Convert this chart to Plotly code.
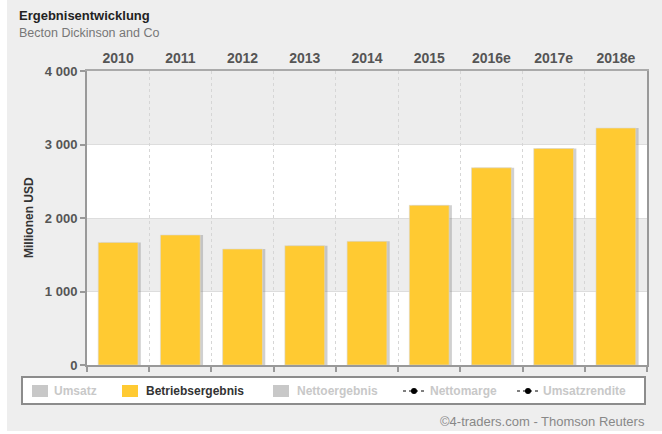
import plotly.graph_objects as go

# ---- data ----
years = ["2010", "2011", "2012", "2013", "2014", "2015", "2016e", "2017e", "2018e"]
betriebsergebnis = [1668, 1769, 1578, 1623, 1682, 2173, 2683, 2946, 3224]
y_ticks = [0, 1000, 2000, 3000, 4000]
y_tick_labels = ["0", "1 000", "2 000", "3 000", "4 000"]
legend_items = ["Umsatz", "Betriebsergebnis", "Nettoergebnis", "Nettomarge", "Umsatzrendite"]

W, H = 662, 434
L, R, T, B = 87, 647, 71, 365
FONT = "Liberation Sans, Arial, sans-serif"


def px(x):
    return (x - L) / (R - L)


def py(y):
    return 1 - (y - T) / (B - T)


BAR_W = 0.64
fig = go.Figure()
# shadow
fig.add_trace(go.Bar(x=years, y=betriebsergebnis, width=BAR_W, offset=-BAR_W / 2 + 0.045,
                     marker=dict(color="rgba(120,120,120,0.35)", line=dict(width=0)),
                     hoverinfo="skip", showlegend=False))
fig.add_trace(go.Bar(x=years, y=betriebsergebnis, width=BAR_W, offset=-BAR_W / 2,
                     marker=dict(color="#FFCA32", line=dict(color="#d9d9d9", width=0.6)),
                     name="Betriebsergebnis", showlegend=False))
# invisible trace for bottom axis
fig.add_trace(go.Scatter(x=[-0.5, len(years) - 0.5], y=[0, 0], xaxis="x2", mode="lines",
                         line=dict(width=0), hoverinfo="skip", showlegend=False))

shapes = []
# outer gray background
shapes.append(dict(type="rect", xref="paper", yref="paper", x0=px(7), x1=px(W + 5),
                   y0=py(431), y1=py(-5), fillcolor="#eeeeee", line=dict(width=0), layer="below"))
# plot area bands
shapes.append(dict(type="rect", xref="paper", yref="y", x0=0, x1=1, y0=0, y1=4000,
                   fillcolor="#ededed", line=dict(width=0), layer="below"))
for lo, hi in [(0, 1000), (2000, 3000)]:
    shapes.append(dict(type="rect", xref="paper", yref="y", x0=0, x1=1, y0=lo, y1=hi,
                       fillcolor="#ffffff", line=dict(width=0), layer="below"))

# legend box
shapes.append(dict(type="rect", xref="paper", yref="paper", x0=px(22), x1=px(645),
                   y0=py(404), y1=py(377), fillcolor="#ffffff",
                   line=dict(color="#8c8c8c", width=2), layer="above"))

annotations = []
legend_specs = [
    ("square", "#c8c8c8", 32, 52, "#c8c8c8"),
    ("square", "#FFCA32", 122, 144, "#333333"),
    ("square", "#c8c8c8", 273, 295, "#c8c8c8"),
    ("line", "#000000", 403, 428, "#c8c8c8"),
    ("line", "#000000", 517, 541, "#c8c8c8"),
]
ly = 391
for name, (kind, col, sx, tx, tcol) in zip(legend_items, legend_specs):
    if kind == "square":
        shapes.append(dict(type="rect", xref="paper", yref="paper", x0=px(sx), x1=px(sx + 16),
                           y0=py(ly + 6), y1=py(ly - 6), fillcolor=col, line=dict(width=0)))
    else:
        shapes.append(dict(type="line", xref="paper", yref="paper", x0=px(sx), x1=px(sx + 22),
                           y0=py(ly), y1=py(ly), line=dict(color=col, width=1, dash="dot")))
        shapes.append(dict(type="circle", xref="paper", yref="paper", x0=px(sx + 8), x1=px(sx + 14),
                           y0=py(ly + 3), y1=py(ly - 3), fillcolor=col, line=dict(width=0)))
    annotations.append(dict(text="<b>" + name + "</b>", xref="paper", yref="paper", x=px(tx), y=py(ly),
                            xanchor="left", yanchor="middle", showarrow=False,
                            font=dict(family=FONT, size=12, color=tcol)))

annotations += [
    dict(text="<b>Ergebnisentwicklung</b>", xref="paper", yref="paper", x=px(17), y=py(15),
         xanchor="left", yanchor="middle", showarrow=False,
         font=dict(family=FONT, size=13, color="#222222")),
    dict(text="Becton Dickinson and Co", xref="paper", yref="paper", x=px(17), y=py(33),
         xanchor="left", yanchor="middle", showarrow=False,
         font=dict(family=FONT, size=12.5, color="#777777")),
    dict(text="<b>Millionen USD</b>", xref="paper", yref="paper", x=px(29), y=py(217),
         xanchor="center", yanchor="middle", showarrow=False, textangle=-90,
         font=dict(family=FONT, size=12, color="#333333")),
    dict(text="©4-traders.com - Thomson Reuters", xref="paper", yref="paper", x=px(647), y=py(421),
         xanchor="right", yanchor="middle", showarrow=False,
         font=dict(family=FONT, size=13, color="#888888")),
]

fig.update_layout(
    width=W, height=H,
    margin=dict(l=L, r=W - R, t=T, b=H - B, pad=0),
    paper_bgcolor="#ffffff", plot_bgcolor="#ededed",
    barmode="overlay", bargap=0.36,
    showlegend=False,
    shapes=shapes, annotations=annotations,
    xaxis=dict(type="category", side="top", range=[-0.5, len(years) - 0.5],
               showline=True, linecolor="#aaaaaa", linewidth=2, ticks="", showgrid=False,
               tickfont=dict(family=FONT, size=14, color="#555555", weight="bold"),
               fixedrange=True),
    xaxis2=dict(overlaying="x", side="bottom", range=[-0.5, len(years) - 0.5],
                tickvals=[i - 0.5 for i in range(len(years) + 1)], showticklabels=False,
                ticks="outside", ticklen=5, tickcolor="#999999", tickwidth=2,
                showline=True, linecolor="#999999", linewidth=2,
                showgrid=True, gridcolor="#d6d6d6", griddash="dot", gridwidth=1,
                zeroline=False, fixedrange=True),
    yaxis=dict(range=[0, 4000], tickvals=y_ticks, ticktext=y_tick_labels,
               ticks="outside", ticklen=5, tickcolor="#999999", tickwidth=2,
               showline=True, linecolor="#999999", linewidth=2, mirror=True,
               showgrid=True, gridcolor="#dddddd", zeroline=False,
               tickfont=dict(family=FONT, size=13, color="#555555", weight="bold"),
               fixedrange=True),
)

fig.write_html("out.html")
